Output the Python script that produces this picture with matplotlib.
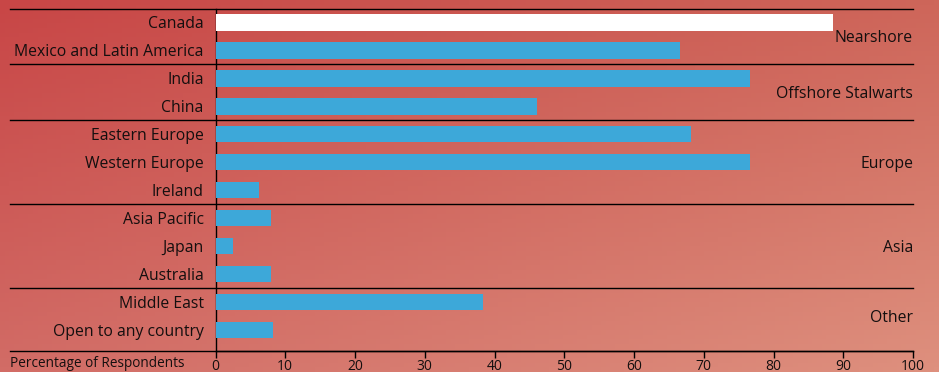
import numpy as np
import matplotlib
matplotlib.use("Agg")
import matplotlib.pyplot as plt
import matplotlib.transforms as mtransforms

countries = ["Canada", "Mexico and Latin America", "India", "China",
             "Eastern Europe", "Western Europe", "Ireland",
             "Asia Pacific", "Japan", "Australia",
             "Middle East", "Open to any country"]
percent = [88.5, 66.6, 76.6, 46.1, 68.2, 76.6, 6.2, 8.0, 2.5, 8.0, 38.4, 8.2]
bar_colors = ["white"] + ["#3da8d9"] * 11
groups = ["Nearshore", "Offshore Stalwarts", "Europe", "Asia", "Other"]
group_sizes = [2, 2, 3, 3, 2]
xticks = [0, 10, 20, 30, 40, 50, 60, 70, 80, 90, 100]

W, H = 939, 372
fig = plt.figure(figsize=(W / 100, H / 100), dpi=100)
plt.rcParams["font.family"] = ["Open Sans", "DejaVu Sans"]
txt = "#140f0f"

# background gradient from four corner colours
bg = fig.add_axes([0, 0, 1, 1], zorder=-10)
tl = np.array([200, 70, 70]) / 255
tr = np.array([206, 102, 90]) / 255
bl = np.array([210, 108, 102]) / 255
br = np.array([222, 144, 126]) / 255
u = np.linspace(0, 1, 200)[None, :, None]
v = np.linspace(0, 1, 80)[:, None, None]
img = (1 - v) * ((1 - u) * tl + u * tr) + v * ((1 - u) * bl + u * br)
bg.imshow(img, aspect="auto", extent=[0, 1, 0, 1], origin="upper")
bg.axis("off")

left, right = 215.5 / W, 913 / W
top, bottom = 1 - 9 / H, 1 - 351 / H
ax = fig.add_axes([left, bottom, right - left, top - bottom])
ax.patch.set_alpha(0)

y = np.arange(len(countries))
ax.barh(y, percent, height=0.6, color=bar_colors, zorder=3)
ax.set_xlim(0, 100)
ax.set_ylim(11.75, -0.47)

ax.set_yticks([])
ax.set_xticks(xticks)
ax.set_xticklabels([str(t) for t in xticks], fontsize=10, color=txt)
ax.tick_params(axis="x", direction="out", length=5, width=1, color="black", pad=0.5)
for s in ["top", "right"]:
    ax.spines[s].set_visible(False)
for s in ["left", "bottom"]:
    ax.spines[s].set_color("black")
    ax.spines[s].set_linewidth(1)

# country labels
for yi, name in zip(y, countries):
    ax.text(-1.7, yi + 0.06, name, ha="right", va="center", fontsize=11.3, color=txt)

# group separators, extended to the left label area
trans = mtransforms.blended_transform_factory(ax.transAxes, ax.transData)
x0 = (10 - 215.5) / (913 - 215.5)
bounds = np.cumsum([0] + group_sizes) - 0.5
bounds[0] = -0.47
bounds[-1] = 11.75
for b in bounds:
    ax.plot([x0, 1], [b, b], color="black", lw=1, transform=trans, clip_on=False, zorder=4)

# group labels at group centres
for g, lo, hi in zip(groups, bounds[:-1], bounds[1:]):
    c = (max(lo, -0.5) + min(hi, 11.5)) / 2
    ax.text(1.0, c + 0.06, g, ha="right", va="center", fontsize=11.3, color=txt,
            transform=trans, zorder=5)

ax.text(x0, -0.014, "Percentage of Respondents", transform=ax.transAxes,
        ha="left", va="top", fontsize=9.8, color=txt)

fig.savefig("out.png", dpi=100)
